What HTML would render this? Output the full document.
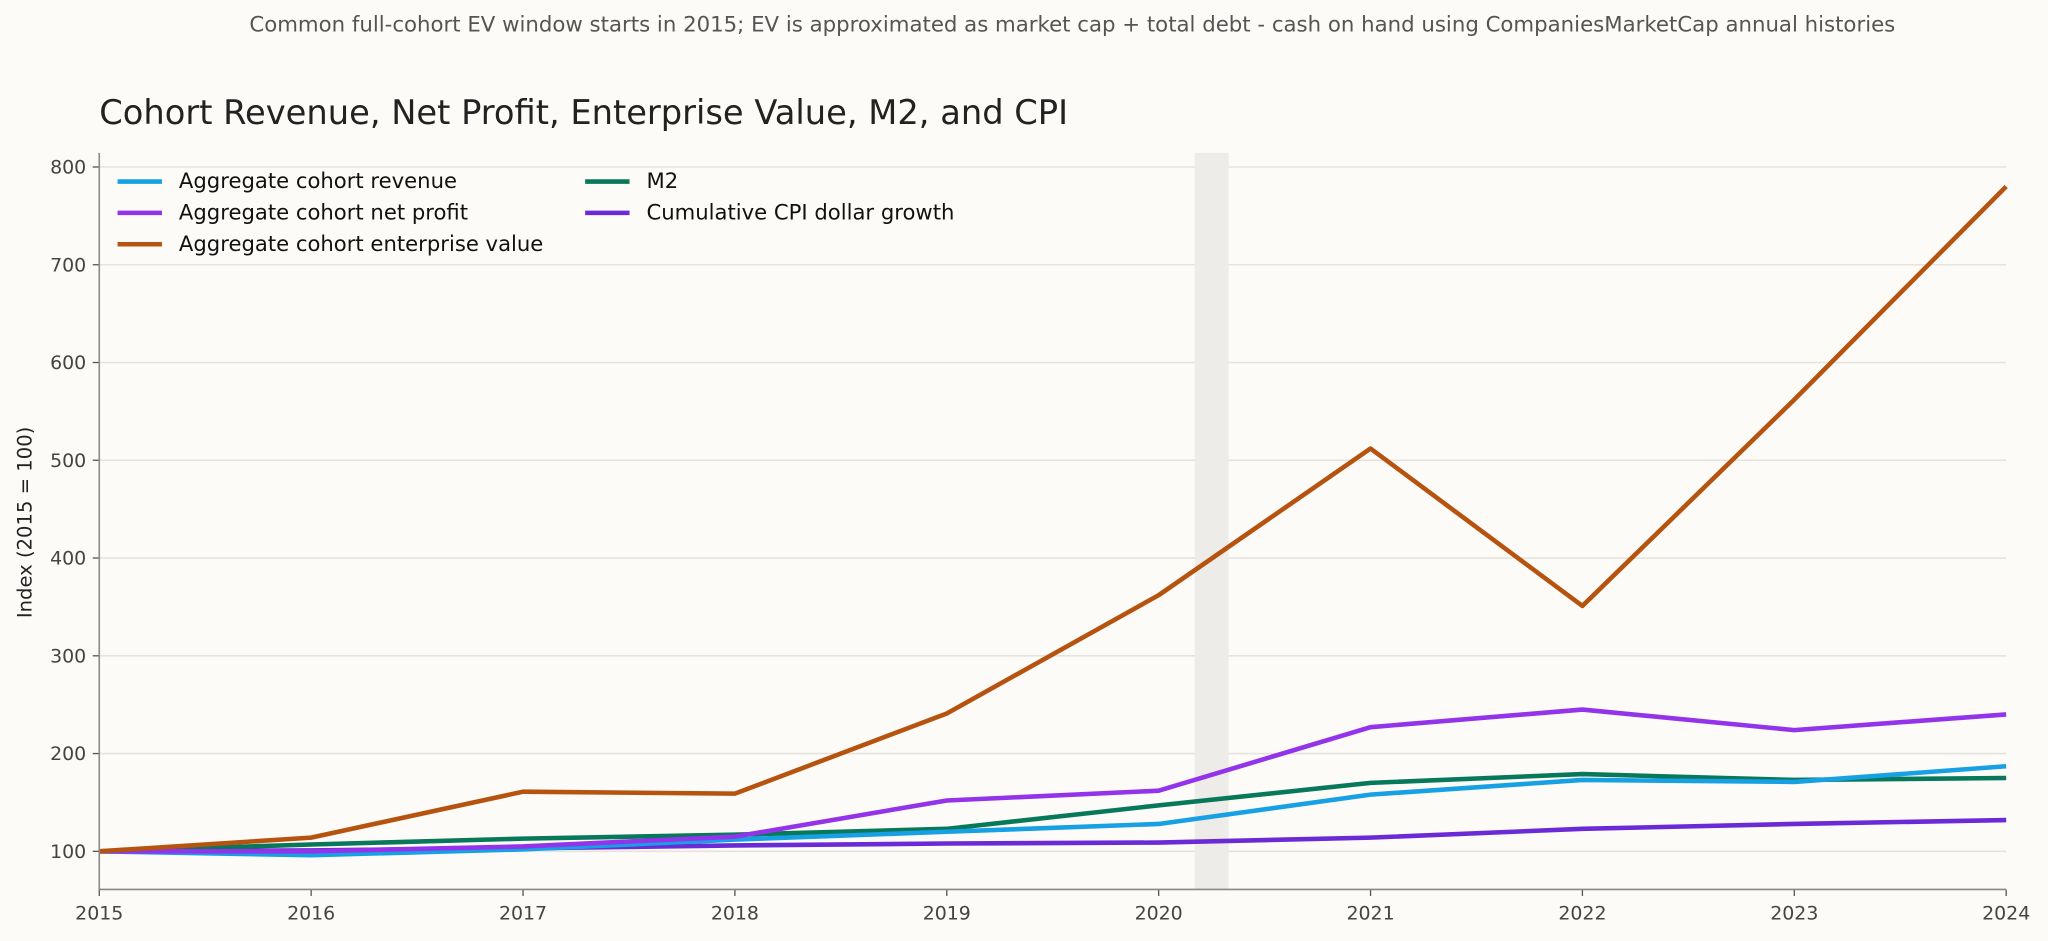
<!DOCTYPE html>
<html><head><meta charset="utf-8"><style>
html,body{margin:0;padding:0;background:#fcfbf8;}
svg{display:block;font-family:"DejaVu Sans","Liberation Sans",sans-serif;}
</style></head><body>
<svg id="c" width="2048" height="941" viewBox="0 0 2048 941">
<rect width="2048" height="941" fill="#fcfbf8"/>
<g transform="scale(1.3061)">
<text x="821" y="24" font-size="16.3" fill="#555" text-anchor="middle">Common full-cohort EV window starts in 2015; EV is approximated as market cap + total debt - cash on hand using CompaniesMarketCap annual histories</text>
<text x="76" y="95" font-size="25.8" fill="#222">Cohort Revenue, Net Profit, Enterprise Value, M2, and CPI</text>
<text transform="translate(24,400) rotate(-90)" font-size="15" fill="#222" text-anchor="middle">Index (2015 = 100)</text>
<g id="grid"></g><g id="series"></g><g id="axes"></g><g id="legend"></g>
</g>
</svg>
<script>
const years=[2015,2016,2017,2018,2019,2020,2021,2022,2023,2024];
const yTicks=[100,200,300,400,500,600,700,800];
const revenue=[100,96,102,112,120,128,158,173,171,187];
const netProfit=[100,100,105,115,152,162,227,245,224,240];
const enterpriseValue=[100,114,161,159,241,362,512,351,562,780];
const m2=[100,107,113,117,123,147,170,179,173,175];
const cpi=[100,101,103,106,108,109,114,123,128,132];
const shade=[2020.17,2020.33];
const NS='http://www.w3.org/2000/svg';
const X0=76,X1=1536,Y0=681,Y1=117,ymin=61,ymax=814.5;
const xs=v=>X0+(v-2015)/(2024-2015)*(X1-X0);
const ys=v=>Y0-(v-ymin)/(ymax-ymin)*(Y0-Y1);
function mk(t,a,p){const e=document.createElementNS(NS,t);for(const k in a)e.setAttribute(k,a[k]);p.appendChild(e);return e;}
const grid=document.getElementById('grid'),axes=document.getElementById('axes'),ser=document.getElementById('series'),leg=document.getElementById('legend');
yTicks.forEach(t=>{
 const l=mk('line',{x1:X0,x2:X1,y1:ys(t),y2:ys(t),stroke:'#e6e3de','stroke-width':1.2},grid);
 
 
 mk('line',{x1:X0-5,x2:X0,y1:ys(t),y2:ys(t),stroke:'#555'},axes);
 const tx=mk('text',{x:X0-10,y:ys(t)+5,'font-size':14.5,fill:'#444','text-anchor':'end'},axes);
 tx.textContent=t;
 
 
});
const sh=mk('rect',{x:xs(shade[0]),y:Y1,width:xs(shade[1])-xs(shade[0]),height:Y0-Y1,fill:'#eeece8'},grid);


years.forEach(y=>{
 mk('line',{x1:xs(y),x2:xs(y),y1:Y0,y2:Y0+5,stroke:'#555'},axes);
 const tx=mk('text',{x:xs(y),y:Y0+23,'font-size':14.5,fill:'#444','text-anchor':'middle'},axes);
 tx.textContent=y;
 
 
});
mk('line',{x1:X0,x2:X0,y1:Y1,y2:Y0,stroke:'#888','stroke-width':1.2},axes);
mk('line',{x1:X0,x2:X1,y1:Y0,y2:Y0,stroke:'#888','stroke-width':1.2},axes);
const S=[
 ['Aggregate cohort revenue',revenue,'#17a0e3','revenue-line'],
 ['Aggregate cohort net profit',netProfit,'#9333ea','net-profit-line'],
 ['Aggregate cohort enterprise value',enterpriseValue,'#b5530f','enterprise-value-line'],
 ['M2',m2,'#07785a','m2-line'],
 ['Cumulative CPI dollar growth',cpi,'#6a2bd6','cpi-line']];
const order=[4,3,0,1,2];
order.forEach(i=>{const s=S[i];
 const p=mk('polyline',{points:s[1].map((v,j)=>xs(years[j])+','+ys(v)).join(' '),fill:'none',stroke:s[2],'stroke-width':3.5,'stroke-linejoin':'round'},ser);
 
 
});
const lp=[[90,139],[90,163],[90,187],[448,139],[448,163]];
S.forEach((s,i)=>{
 const g=mk('g',{},leg);
 
 
 mk('line',{x1:lp[i][0],x2:lp[i][0]+34,y1:lp[i][1],y2:lp[i][1],stroke:s[2],'stroke-width':3.5},g);
 const t=mk('text',{x:lp[i][0]+47,y:lp[i][1]+5,'font-size':16.2,fill:'#111'},g);
 t.textContent=s[0];
});
</script>
</body></html>
